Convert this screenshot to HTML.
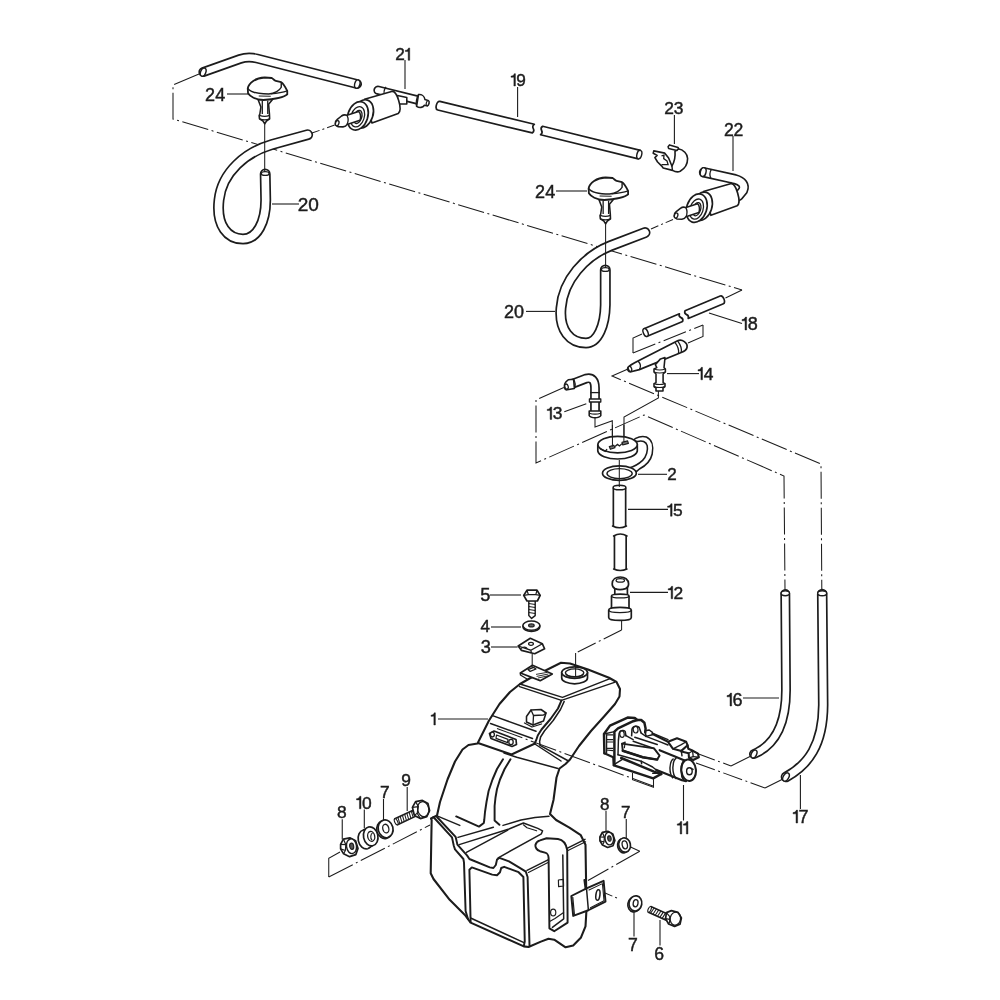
<!DOCTYPE html>
<html><head><meta charset="utf-8"><title>Washer system diagram</title>
<style>
html,body{margin:0;padding:0;background:#fff;}
svg{display:block;}
text{font-family:"Liberation Sans",sans-serif;fill:#1c1c1c;}
</style></head><body>
<svg width="1000" height="1000" viewBox="0 0 1000 1000" style="filter:blur(0.35px)">
<rect width="1000" height="1000" fill="#fff"/>
<path d="M199,74 L173,85 L173,119 L742,290" fill="none" stroke="#1c1c1c" stroke-width="1.04" stroke-dasharray="27 3.5 2 3.5" />
<path d="M742,290 L725.5,298" fill="none" stroke="#1c1c1c" stroke-width="1.04" />
<path d="M312,133 L335,125" fill="none" stroke="#1c1c1c" stroke-width="1.04" stroke-dasharray="8 3 2 3" />
<path d="M651,229 L674,219" fill="none" stroke="#1c1c1c" stroke-width="1.04" stroke-dasharray="8 3 2 3" />
<path d="M628,369 L612,376 L821,464 L821.8,590" fill="none" stroke="#1c1c1c" stroke-width="1.04" stroke-dasharray="27 3.5 2 3.5" />
<path d="M563.8,387.5 L536,400 L536,463 L644,415 L784,476 L785,590" fill="none" stroke="#1c1c1c" stroke-width="1.04" stroke-dasharray="27 3.5 2 3.5" />
<path d="M595,417 L595,427 L612.3,420.8 L612.3,446" fill="none" stroke="#1c1c1c" stroke-width="1.04" />
<path d="M658.4,390 L658.4,398 L624,417 L624,442" fill="none" stroke="#1c1c1c" stroke-width="1.04" />
<path d="M642,334 L633,338 L633,353" fill="none" stroke="#1c1c1c" stroke-width="1.04" />
<path d="M633,353 L703,325" fill="none" stroke="#1c1c1c" stroke-width="1.04" stroke-dasharray="24 3.5 2 3.5" />
<path d="M703,325 L703,336.4 L688,343" fill="none" stroke="#1c1c1c" stroke-width="1.04" />
<path d="M621.6,620 L621.6,630" fill="none" stroke="#1c1c1c" stroke-width="1.04" />
<path d="M621.6,630 L575.6,653" fill="none" stroke="#1c1c1c" stroke-width="1.04" stroke-dasharray="20 3.5 2 3.5" />
<path d="M696,753 L731,766" fill="none" stroke="#1c1c1c" stroke-width="1.04" stroke-dasharray="20 3.5 2 3.5" />
<path d="M731,766 L751,756" fill="none" stroke="#1c1c1c" stroke-width="1.04" />
<path d="M696,763 L765,788" fill="none" stroke="#1c1c1c" stroke-width="1.04" stroke-dasharray="20 3.5 2 3.5" />
<path d="M765,788 L783,779" fill="none" stroke="#1c1c1c" stroke-width="1.04" />
<path d="M340,852 L328.75,858.25 L328.75,877" fill="none" stroke="#1c1c1c" stroke-width="1.04" />
<path d="M328.75,877 L430,825" fill="none" stroke="#1c1c1c" stroke-width="1.04" stroke-dasharray="27 3.5 2 3.5" />
<path d="M630,846.75 L639.75,851.25" fill="none" stroke="#1c1c1c" stroke-width="1.04" />
<path d="M639.75,851.25 L588,880.5" fill="none" stroke="#1c1c1c" stroke-width="1.04" stroke-dasharray="27 3.5 2 3.5" />
<path d="M605,893 L618,898.5" fill="none" stroke="#1c1c1c" stroke-width="1.04" stroke-dasharray="8 3 2 3" />
<path d="M203.4,72 L240,59 Q248,56.3 257,58.5 L357,84" fill="none" stroke="#1c1c1c" stroke-width="10.0" stroke-linecap="round" stroke-linejoin="round"/>
<path d="M203.4,72 L240,59 Q248,56.3 257,58.5 L357,84" fill="none" stroke="#fff" stroke-width="6.619999999999999" stroke-linecap="round" stroke-linejoin="round"/>
<ellipse cx="203.2" cy="72.1" rx="2.6" ry="4.3" transform="rotate(20 203.2 72.1)" fill="#fff" stroke="#1c1c1c" stroke-width="1.43"/>
<ellipse cx="357.3" cy="84.1" rx="2.6" ry="4.3" transform="rotate(15 357.3 84.1)" fill="#fff" stroke="#1c1c1c" stroke-width="1.43"/>
<path d="M307.6,134.7 L272,144.5 C 246,152 222,172 219,200 C 216,226 228,239 243,239 C 257,239 265.7,222 265.7,200 L 265.2,174" fill="none" stroke="#1c1c1c" stroke-width="11" stroke-linecap="round" stroke-linejoin="round"/>
<path d="M307.6,134.7 L272,144.5 C 246,152 222,172 219,200 C 216,226 228,239 243,239 C 257,239 265.7,222 265.7,200 L 265.2,174" fill="none" stroke="#fff" stroke-width="7.619999999999999" stroke-linecap="round" stroke-linejoin="round"/>
<ellipse cx="265.2" cy="173.5" rx="3.9" ry="1.9" transform="rotate(0 265.2 173.5)" fill="#fff" stroke="#1c1c1c" stroke-width="1.43"/>
<path d="M645,232.6 L610,246 C 585,256 563,280 561,308 C 559,330 570,343 586,343 C 598,343 605,325 605.3,305 L 605.3,270" fill="none" stroke="#1c1c1c" stroke-width="11" stroke-linecap="round" stroke-linejoin="round"/>
<path d="M645,232.6 L610,246 C 585,256 563,280 561,308 C 559,330 570,343 586,343 C 598,343 605,325 605.3,305 L 605.3,270" fill="none" stroke="#fff" stroke-width="7.619999999999999" stroke-linecap="round" stroke-linejoin="round"/>
<ellipse cx="605.3" cy="269.5" rx="3.9" ry="1.9" transform="rotate(0 605.3 269.5)" fill="#fff" stroke="#1c1c1c" stroke-width="1.43"/>
<path d="M437.75,110.03 L532.25,132.93 Q534.72,131.24 533.30,128.60 Q531.88,125.96 534.35,124.27 L439.85,101.37 C436.60,100.58 434.50,109.24 437.75,110.03 Z" fill="#fff" stroke="#1c1c1c" stroke-width="1.69" stroke-linejoin="round" stroke-linecap="round" />
<path d="M540.56,134.73 L638.26,158.83 L640.34,150.37 L542.64,126.27 Q540.18,127.91 541.60,130.50 Q543.02,133.09 540.56,134.73 Z" fill="#fff" stroke="#1c1c1c" stroke-width="1.69" stroke-linejoin="round" stroke-linecap="round" />
<ellipse cx="639.3" cy="154.6" rx="2.3952500000000003" ry="4.355" transform="rotate(13.856720041514155 639.3 154.6)" fill="#fff" stroke="#1c1c1c" stroke-width="1.43"/>
<path d="M647.21,336.33 L682.61,321.43 Q683.65,318.74 681.00,317.60 Q678.35,316.46 679.39,313.77 L643.99,328.67 L647.21,336.33 Z" fill="#fff" stroke="#1c1c1c" stroke-width="1.69" stroke-linejoin="round" stroke-linecap="round" />
<ellipse cx="645.6" cy="332.5" rx="2.2852500000000004" ry="4.155" transform="rotate(-22.8264180350521 645.6 332.5)" fill="#fff" stroke="#1c1c1c" stroke-width="1.43"/>
<path d="M688.20,318.43 L723.40,303.73 C726.28,302.53 723.07,294.87 720.20,296.07 L685.00,310.77 Q683.95,313.45 686.60,314.60 Q689.25,315.75 688.20,318.43 Z" fill="#fff" stroke="#1c1c1c" stroke-width="1.69" stroke-linejoin="round" stroke-linecap="round" />
<path d="M619.5,488 L619.5,526" fill="none" stroke="#1c1c1c" stroke-width="14" stroke-linecap="butt" stroke-linejoin="round"/>
<path d="M619.5,488 L619.5,526" fill="none" stroke="#fff" stroke-width="10.62" stroke-linecap="butt" stroke-linejoin="round"/>
<ellipse cx="619.5" cy="487.5" rx="6.4" ry="2.3" transform="rotate(0 619.5 487.5)" fill="#fff" stroke="#1c1c1c" stroke-width="1.56"/>
<path d="M612.5,526 Q619.5,529.5 626.5,526" fill="#fff" stroke="#1c1c1c" stroke-width="1.56" stroke-linejoin="round" stroke-linecap="round" />
<path d="M620.3,536 L620.3,569" fill="none" stroke="#1c1c1c" stroke-width="13.4" stroke-linecap="butt" stroke-linejoin="round"/>
<path d="M620.3,536 L620.3,569" fill="none" stroke="#fff" stroke-width="10.02" stroke-linecap="butt" stroke-linejoin="round"/>
<path d="M613.6,536 Q620.3,532 627,536" fill="#fff" stroke="#1c1c1c" stroke-width="1.56" stroke-linejoin="round" stroke-linecap="round" />
<path d="M613.6,569 Q620.3,572 627,569" fill="#fff" stroke="#1c1c1c" stroke-width="1.56" stroke-linejoin="round" stroke-linecap="round" />
<path d="M785.3,594 L786,690 C 786,725 775,745 754,754" fill="none" stroke="#1c1c1c" stroke-width="10.0" stroke-linecap="round" stroke-linejoin="round"/>
<path d="M785.3,594 L786,690 C 786,725 775,745 754,754" fill="none" stroke="#fff" stroke-width="6.619999999999999" stroke-linecap="round" stroke-linejoin="round"/>
<ellipse cx="785.3" cy="593.3" rx="4.2" ry="2.4" transform="rotate(0 785.3 593.3)" fill="#fff" stroke="#1c1c1c" stroke-width="1.43"/>
<ellipse cx="754" cy="754" rx="2.6" ry="4.2" transform="rotate(25 754 754)" fill="#fff" stroke="#1c1c1c" stroke-width="1.43"/>
<path d="M822.2,594 L823.2,705 C 823,745 808,765 786,777" fill="none" stroke="#1c1c1c" stroke-width="10.6" stroke-linecap="round" stroke-linejoin="round"/>
<path d="M822.2,594 L823.2,705 C 823,745 808,765 786,777" fill="none" stroke="#fff" stroke-width="7.219999999999999" stroke-linecap="round" stroke-linejoin="round"/>
<ellipse cx="822.2" cy="593.3" rx="4.5" ry="2.5" transform="rotate(0 822.2 593.3)" fill="#fff" stroke="#1c1c1c" stroke-width="1.43"/>
<ellipse cx="786" cy="777" rx="2.7" ry="4.5" transform="rotate(30 786 777)" fill="#fff" stroke="#1c1c1c" stroke-width="1.43"/>
<g transform="translate(264.75 123.8)">
<path d="M-6.6,-24 L-3.85,-16.8 L-4.9,-9.8 L-5.6,-8.2 L-5.25,-4.9 L-1.75,-2.8 L0,0 L1.75,-2.8 L4.9,-4.9 L4.7,-9.8 L3.85,-19.6 L8,-24.5 Z" fill="#fff" stroke="#1c1c1c" stroke-width="1.56" stroke-linejoin="round" stroke-linecap="round" />
<path d="M-2.45,-23.1 L-2.45,-9.8 M3.0,-23.1 L3.0,-9.8" fill="none" stroke="#1c1c1c" stroke-width="1.3" />
<path d="M-5.4,-8.4 Q0,-6.3 4.8,-8.4 M-5.25,-4.9 Q0,-3 4.9,-4.9" fill="none" stroke="#1c1c1c" stroke-width="1.3" />
<path d="M-17,-35.5 C-16,-41 -9,-46 0,-46.3 L7,-45.8 C9,-44.5 9.5,-43.3 11,-43 L16.5,-41.6 C18.5,-40.5 21,-36 22.5,-33 L22.5,-29.4 C20,-27 10,-24.5 -1.5,-23.8 C-9,-24 -15,-27.5 -16.7,-30.5 Z" fill="#fff" stroke="#1c1c1c" stroke-width="1.82" stroke-linejoin="round" stroke-linecap="round" />
<path d="M-17,-35.5 C-14,-31 -6,-29.8 4,-29.8 C10,-30.3 15,-33.5 16.5,-36.5 L16.5,-41.6" fill="none" stroke="#1c1c1c" stroke-width="1.43" />
<path d="M22.5,-33 C18,-31.6 12,-30.6 6,-29.9" fill="none" stroke="#1c1c1c" stroke-width="1.3" />
<path d="M-6,-27.8 L6,-27.6" fill="none" stroke="#1c1c1c" stroke-width="1.04" />
</g>
<g transform="translate(605.6 223.8)">
<path d="M-6.6,-24 L-3.85,-16.8 L-4.9,-9.8 L-5.6,-8.2 L-5.25,-4.9 L-1.75,-2.8 L0,0 L1.75,-2.8 L4.9,-4.9 L4.7,-9.8 L3.85,-19.6 L8,-24.5 Z" fill="#fff" stroke="#1c1c1c" stroke-width="1.56" stroke-linejoin="round" stroke-linecap="round" />
<path d="M-2.45,-23.1 L-2.45,-9.8 M3.0,-23.1 L3.0,-9.8" fill="none" stroke="#1c1c1c" stroke-width="1.3" />
<path d="M-5.4,-8.4 Q0,-6.3 4.8,-8.4 M-5.25,-4.9 Q0,-3 4.9,-4.9" fill="none" stroke="#1c1c1c" stroke-width="1.3" />
<path d="M-17,-35.5 C-16,-41 -9,-46 0,-46.3 L7,-45.8 C9,-44.5 9.5,-43.3 11,-43 L16.5,-41.6 C18.5,-40.5 21,-36 22.5,-33 L22.5,-29.4 C20,-27 10,-24.5 -1.5,-23.8 C-9,-24 -15,-27.5 -16.7,-30.5 Z" fill="#fff" stroke="#1c1c1c" stroke-width="1.82" stroke-linejoin="round" stroke-linecap="round" />
<path d="M-17,-35.5 C-14,-31 -6,-29.8 4,-29.8 C10,-30.3 15,-33.5 16.5,-36.5 L16.5,-41.6" fill="none" stroke="#1c1c1c" stroke-width="1.43" />
<path d="M22.5,-33 C18,-31.6 12,-30.6 6,-29.9" fill="none" stroke="#1c1c1c" stroke-width="1.3" />
<path d="M-6,-27.8 L6,-27.6" fill="none" stroke="#1c1c1c" stroke-width="1.04" />
</g>
<path d="M378,90.2 L420,100.6" fill="none" stroke="#1c1c1c" stroke-width="9.4" stroke-linecap="round" stroke-linejoin="round"/>
<path d="M378,90.2 L420,100.6" fill="none" stroke="#fff" stroke-width="6.02" stroke-linecap="round" stroke-linejoin="round"/>
<path d="M386,86.8 C384,89.4 383.6,93.4 385,96.4" fill="none" stroke="#1c1c1c" stroke-width="1.3" />
<path d="M397.5,95.5 L397.5,104 L406.8,104 L406.8,97.5 Z" fill="#fff" stroke="#1c1c1c" stroke-width="1.56" stroke-linejoin="round" stroke-linecap="round" />
<path d="M418.5,94.6 C421.4,94.2 424.4,96 425,99.6 L428,100.4 C429.4,101.4 429.2,105.2 427.6,105.9 L424.4,105.3 C422.9,107.6 419.5,108.2 416.6,106.4 Z" fill="#fff" stroke="#1c1c1c" stroke-width="1.56" stroke-linejoin="round" stroke-linecap="round" />
<path d="M418.5,94.6 C416.6,97.5 415.6,103 416.6,106.4" fill="none" stroke="#1c1c1c" stroke-width="1.3" />
<ellipse cx="427.6" cy="103.1" rx="1.3" ry="2.5" transform="rotate(14 427.6 103.1)" fill="#fff" stroke="#1c1c1c" stroke-width="1.17"/>
<g transform="translate(0 0)">
<path d="M364.5,99.2 L391.6,91.5 C 397,90 403,110 398.2,113.5 L372,123 Z" fill="#fff" stroke="#1c1c1c" stroke-width="1.69" stroke-linejoin="round" stroke-linecap="round" />
<ellipse cx="363.0" cy="114.0" rx="10" ry="14.6" transform="rotate(18 363.0 114.0)" fill="#fff" stroke="#1c1c1c" stroke-width="1.69"/>
<ellipse cx="357.8" cy="115.9" rx="10" ry="14.6" transform="rotate(18 357.8 115.9)" fill="#fff" stroke="#1c1c1c" stroke-width="1.69"/>
<ellipse cx="357.6" cy="116.8" rx="6.6" ry="10.4" transform="rotate(18 357.6 116.8)" fill="#fff" stroke="#1c1c1c" stroke-width="1.3"/>
<ellipse cx="357.8" cy="116.9" rx="3.9" ry="6.8" transform="rotate(18 357.8 116.9)" fill="#fff" stroke="#1c1c1c" stroke-width="1.3"/>
<path d="M358.6,111.4 L347,115.3 C345,114.5 343,114.9 341.5,116 L337,119.6 C334.3,121.6 334.8,126 338,126.7 L343,126.9 C345,126.7 346.5,125.6 347,124.5 L360,120.2 C361.2,117 360.6,113 358.6,111.4 Z" fill="#fff" stroke="#1c1c1c" stroke-width="1.56" stroke-linejoin="round" stroke-linecap="round" />
<path d="M347,115.3 C348.3,118 348.3,122 347,124.5" fill="none" stroke="#1c1c1c" stroke-width="1.3" />
<ellipse cx="337.2" cy="123.2" rx="1.7" ry="2.6" transform="rotate(18 337.2 123.2)" fill="#fff" stroke="#1c1c1c" stroke-width="1.3"/>
</g>
<path d="M704,172.3 L735,179.2 Q746.5,182.5 743,190.5 L738.5,196" fill="none" stroke="#1c1c1c" stroke-width="10.4" stroke-linecap="round" stroke-linejoin="round"/>
<path d="M704,172.3 L735,179.2 Q746.5,182.5 743,190.5 L738.5,196" fill="none" stroke="#fff" stroke-width="7.02" stroke-linecap="round" stroke-linejoin="round"/>
<ellipse cx="703.2" cy="172.1" rx="2.8" ry="4.5" transform="rotate(14 703.2 172.1)" fill="#fff" stroke="#1c1c1c" stroke-width="1.43"/>
<path d="M711.5,169.2 C709.8,172 709.6,176 711,178.6" fill="none" stroke="#1c1c1c" stroke-width="1.3" />
<path d="M730.5,182 L731.8,185.8" fill="none" stroke="#1c1c1c" stroke-width="1.3" />
<g transform="translate(338.9 92.3)">
</g>
<g transform="translate(338.9 92.3)">
<path d="M364.5,99.2 L391.6,91.5 C 397,90 403,110 398.2,113.5 L372,123 Z" fill="#fff" stroke="#1c1c1c" stroke-width="1.69" stroke-linejoin="round" stroke-linecap="round" />
<ellipse cx="363.0" cy="114.0" rx="10" ry="14.6" transform="rotate(18 363.0 114.0)" fill="#fff" stroke="#1c1c1c" stroke-width="1.69"/>
<ellipse cx="357.8" cy="115.9" rx="10" ry="14.6" transform="rotate(18 357.8 115.9)" fill="#fff" stroke="#1c1c1c" stroke-width="1.69"/>
<ellipse cx="357.6" cy="116.8" rx="6.6" ry="10.4" transform="rotate(18 357.6 116.8)" fill="#fff" stroke="#1c1c1c" stroke-width="1.3"/>
<ellipse cx="357.8" cy="116.9" rx="3.9" ry="6.8" transform="rotate(18 357.8 116.9)" fill="#fff" stroke="#1c1c1c" stroke-width="1.3"/>
<path d="M358.6,111.4 L347,115.3 C345,114.5 343,114.9 341.5,116 L337,119.6 C334.3,121.6 334.8,126 338,126.7 L343,126.9 C345,126.7 346.5,125.6 347,124.5 L360,120.2 C361.2,117 360.6,113 358.6,111.4 Z" fill="#fff" stroke="#1c1c1c" stroke-width="1.56" stroke-linejoin="round" stroke-linecap="round" />
<path d="M347,115.3 C348.3,118 348.3,122 347,124.5" fill="none" stroke="#1c1c1c" stroke-width="1.3" />
<ellipse cx="337.2" cy="123.2" rx="1.7" ry="2.6" transform="rotate(18 337.2 123.2)" fill="#fff" stroke="#1c1c1c" stroke-width="1.3"/>
</g>
<path d="M678,148.75 C683.5,149.6 687.6,154 687.6,158.6 C687.6,164 685.4,168.4 680.2,171.3 C677.6,172.4 674.6,171.6 672.5,170.4 L663.2,168 L661.5,165.8 L657.6,162 L654.9,157.6 L657.1,155.4 L653.2,153.2 L653.8,150.9 L664.8,153.15 L668.6,158 L671.9,166 C674.4,162 675.4,156 675,151.4 Z" fill="#fff" stroke="#1c1c1c" stroke-width="1.62" stroke-linejoin="round" stroke-linecap="round" />
<path d="M671.9,166 L672.5,170.4" fill="none" stroke="#1c1c1c" stroke-width="1.43" />
<path d="M661.5,155.9 L664,155.2 L663.7,158.65 L667,160.85 L668.1,164.7 L661.5,164.7" fill="none" stroke="#1c1c1c" stroke-width="1.3" />
<path d="M668.1,146.8 L669.5,144.9 L678,147.4 L678.55,148.75 L676.9,150.4 L668.65,148.5 Z" fill="#fff" stroke="#1c1c1c" stroke-width="1.56" stroke-linejoin="round" stroke-linecap="round" />
<path d="M638,361 L677.6,340.8 C 682,338.5 688,343 687,347.5 C 686.5,350 684,351.5 681.2,352.5 L639.35,369.6 L631,371.8 C 628,372 627,369 628,367.5 C 629,366 633,363.5 638,361 Z" fill="#fff" stroke="#1c1c1c" stroke-width="1.69" stroke-linejoin="round" stroke-linecap="round" />
<path d="M677.6,340.8 C 680,344 682,349 681.2,352.5 M674.8,342.2 C 677.2,345.4 679.2,350.4 678.4,353.6" fill="none" stroke="#1c1c1c" stroke-width="1.3" />
<path d="M638,361 C 640.5,363.5 641,367 639.35,369.6" fill="none" stroke="#1c1c1c" stroke-width="1.3" />
<ellipse cx="630" cy="368.8" rx="1.6" ry="2.6" transform="rotate(-20 630 368.8)" fill="#fff" stroke="#1c1c1c" stroke-width="1.3"/>
<path d="M655.3,364.6 L660.5,358.9 L665,357.6 L664,367.6 L665.4,369 L665.4,372 L663.1,374 L663.1,382.6 L665,383.6 L665,386.6 L663,388 L663,391 L656,391 L656,388 L654,386.6 L654,383.6 L656,382.6 L656,374 L654,372 L654,369 L656.8,367.6 Z" fill="#fff" stroke="#1c1c1c" stroke-width="1.56" stroke-linejoin="round" stroke-linecap="round" />
<path d="M654,369 Q659.7,371 665.4,369 M654,372 Q659.7,374 665.4,372 M654,383.6 Q659.5,385.4 665,383.6 M654,386.6 Q659.5,388.4 665,386.6" fill="none" stroke="#1c1c1c" stroke-width="1.17" />
<path d="M573,383.6 L586,378.6 Q595,376.4 595,388 L595,414" fill="none" stroke="#1c1c1c" stroke-width="9.8" stroke-linecap="butt" stroke-linejoin="round"/>
<path d="M573,383.6 L586,378.6 Q595,376.4 595,388 L595,414" fill="none" stroke="#fff" stroke-width="6.42" stroke-linecap="butt" stroke-linejoin="round"/>
<path d="M573.6,379.3 L568.2,379.8 C565.5,381.5 564,384.5 564.4,387.6 C564.8,389.4 566,390 567.2,389.8 L574.4,388.4 Z" fill="#fff" stroke="#1c1c1c" stroke-width="1.56" stroke-linejoin="round" stroke-linecap="round" />
<ellipse cx="566.5" cy="386.6" rx="1.7" ry="2.6" transform="rotate(-15 566.5 386.6)" fill="#fff" stroke="#1c1c1c" stroke-width="1.3"/>
<path d="M573.6,379.3 C575.2,382 575.6,385.6 574.4,388.4" fill="none" stroke="#1c1c1c" stroke-width="1.3" />
<path d="M589.4,399 L600.8,399 L600.8,402 L589.4,402 Z" fill="#fff" stroke="#1c1c1c" stroke-width="1.3" stroke-linejoin="round" stroke-linecap="round" />
<path d="M590.2,392.6 L599.9,392.6" fill="none" stroke="#1c1c1c" stroke-width="1.3" />
<path d="M589.2,411 L600.8,411 L600.8,415.6 C599,418.4 591,418.4 589.2,415.6 Z" fill="#fff" stroke="#1c1c1c" stroke-width="1.56" stroke-linejoin="round" stroke-linecap="round" />
<path d="M589.2,413.2 Q595,415 600.8,413.2" fill="none" stroke="#1c1c1c" stroke-width="1.17" />
<path d="M633,440.4 C636,437 642,435.6 646.4,437 C651.8,439.4 653.8,446 652.2,454 C650.8,460.4 646.4,465.4 639.4,469 L636.4,471.6 L629,468 C 635,466.4 639.4,463.4 642.6,460.4 C646.4,456.4 648.2,450 647.2,445.6 C646.2,441.8 642,439.8 637.4,441.6 Z" fill="#fff" stroke="#1c1c1c" stroke-width="1.56" stroke-linejoin="round" stroke-linecap="round" />
<ellipse cx="619.4" cy="473.15" rx="16.9" ry="7.2" transform="rotate(0 619.4 473.15)" fill="#fff" stroke="#1c1c1c" stroke-width="1.69"/>
<ellipse cx="619.6" cy="473.6" rx="12.6" ry="5.0" transform="rotate(0 619.6 473.6)" fill="#fff" stroke="#1c1c1c" stroke-width="1.43"/>
<path d="M597.8,444.6 L597.8,451 A19.8,8.6 0 0 0 637.3,451 L637.3,444.6 Z" fill="#fff" stroke="#1c1c1c" stroke-width="1.69" stroke-linejoin="round" stroke-linecap="round" />
<ellipse cx="617.6" cy="444.6" rx="19.7" ry="8.3" transform="rotate(0 617.6 444.6)" fill="#fff" stroke="#1c1c1c" stroke-width="1.69"/>
<path d="M600,448.6 L605.4,451.4 L607,449" fill="none" stroke="#1c1c1c" stroke-width="1.3" />
<path d="M609.3,446.6 L613.8,445.2 L615,447.8 L610.4,449.3 Z" fill="#777" stroke="#1c1c1c" stroke-width="1.17" stroke-linejoin="round" stroke-linecap="round" />
<path d="M622,442.4 L627.6,440.9 L628.4,443.4 L622.8,445 Z" fill="#777" stroke="#1c1c1c" stroke-width="1.17" stroke-linejoin="round" stroke-linecap="round" />
<path d="M615,446.6 L617.5,444.4 L619.5,446 L622,443.6" fill="none" stroke="#1c1c1c" stroke-width="1.3" />
<path d="M619.3,460 L619.3,487" fill="none" stroke="#1c1c1c" stroke-width="1.04" />
<path d="M614.8,597 L614.8,587 L627.4,587 L627.4,597 Z" fill="#fff" stroke="#1c1c1c" stroke-width="1.69" stroke-linejoin="round" stroke-linecap="round" />
<path d="M612.2,584 C612.2,579.4 616,577 620.3,577 C624.6,577 628.6,579.4 628.6,584 C628.6,586.6 627,588 625.6,588.6 C622,589.8 618,589.8 615,588.6 C613.6,588 612.2,586.6 612.2,584 Z" fill="#fff" stroke="#1c1c1c" stroke-width="1.69" stroke-linejoin="round" stroke-linecap="round" />
<ellipse cx="620.3" cy="580.4" rx="4.2" ry="1.8" transform="rotate(0 620.3 580.4)" fill="#fff" stroke="#1c1c1c" stroke-width="1.3"/>
<path d="M611.5,609 L611.5,596 C611.5,593.4 629,593.4 629,596 L629,609 Z" fill="#fff" stroke="#1c1c1c" stroke-width="1.69" stroke-linejoin="round" stroke-linecap="round" />
<path d="M611.5,596 C611.5,598.6 629,598.6 629,596" fill="none" stroke="#1c1c1c" stroke-width="1.3" />
<path d="M608.7,610 C608.7,606.6 631.3,606.6 631.3,610 L631.3,617.4 C631.3,621.4 608.7,621.4 608.7,617.4 Z" fill="#fff" stroke="#1c1c1c" stroke-width="1.69" stroke-linejoin="round" stroke-linecap="round" />
<path d="M608.7,610 C608.7,613.4 631.3,613.4 631.3,610" fill="none" stroke="#1c1c1c" stroke-width="1.3" />
<path d="M528.8,600.5 L535.2,600.5 L535.2,615.6 L531.6,618.4 L528.8,615.6 Z" fill="#fff" stroke="#1c1c1c" stroke-width="1.43" stroke-linejoin="round" stroke-linecap="round" />
<path d="M528.8,603.5 L535.2,604.5 M528.8,606.5 L535.2,607.5 M528.8,609.5 L535.2,610.5 M528.8,612.5 L535.2,613.5" fill="none" stroke="#1c1c1c" stroke-width="1.17" />
<path d="M523.7,595.4 L527,590.2 L537,590.2 L540.2,595.4 L537.4,601 L527,601 Z" fill="#fff" stroke="#1c1c1c" stroke-width="1.69" stroke-linejoin="round" stroke-linecap="round" />
<path d="M527,590.2 L528.4,594.6 L535.8,594.6 L537,590.2 M523.7,595.4 L528.4,594.6 M540.2,595.4 L535.8,594.6" fill="none" stroke="#1c1c1c" stroke-width="1.17" />
<ellipse cx="531.4" cy="626.8" rx="8.5" ry="4.6" transform="rotate(0 531.4 626.8)" fill="#fff" stroke="#1c1c1c" stroke-width="1.56"/>
<ellipse cx="531.4" cy="625.6" rx="8.5" ry="4.6" transform="rotate(0 531.4 625.6)" fill="#fff" stroke="#1c1c1c" stroke-width="1.56"/>
<ellipse cx="531.4" cy="625.4" rx="2.8" ry="1.5" transform="rotate(0 531.4 625.4)" fill="#666" stroke="#1c1c1c" stroke-width="1.17"/>
<path d="M518.2,646 L530.3,638.3 L542.4,643.8 L544.6,648.75 L534.7,653.7 L521.5,650.4 Z" fill="#fff" stroke="#1c1c1c" stroke-width="1.69" stroke-linejoin="round" stroke-linecap="round" />
<path d="M518.2,646 L530.8,650.2 L542.4,643.8 M530.8,650.2 L531.4,653" fill="none" stroke="#1c1c1c" stroke-width="1.3" />
<ellipse cx="531" cy="643.8" rx="2.4" ry="1.5" transform="rotate(0 531 643.8)" fill="#fff" stroke="#1c1c1c" stroke-width="1.3"/>
<path d="M521,648.6 C523,646.4 526,646.6 527.4,648.8" fill="none" stroke="#1c1c1c" stroke-width="1.17" />
<path d="M520.00,684.00 L529.50,678.50 L547.50,669.50 L561.00,662.75 L570.00,663.50 L588.00,669.50 L609.00,677.75 L616.50,682.00 L620.00,689.00 L619.50,696.50 L615.00,704.00 L604.50,716.00 L591.00,731.00 L579.00,746.00 L570.00,759.50 L565.50,764.00 L559.50,768.50 L556.50,777.50 L553.50,800.00 L550.00,814.00 L556.10,820.00 L569.40,827.60 L580.80,835.20 L585.50,844.70 L586.50,909.30 L585.50,926.40 L580.80,937.80 L573.20,945.40 L565.60,947.30 L554.20,939.70 L548.50,938.75 L540.90,941.60 L528.50,947.00 L523.80,946.35 L470.60,922.60 L464.90,915.00 L449.70,899.80 L433.50,879.00 L430.70,873.20 L431.65,820.00 L431.00,818.50 L437.00,815.50 L440.00,802.00 L447.50,779.50 L455.00,761.50 L462.50,749.50 L468.50,745.00 L477.50,743.50 L480.00,738.50 L489.00,720.50 L499.50,704.00 L510.00,692.00 Z" fill="#fff" stroke="#1c1c1c" stroke-width="2.08" stroke-linejoin="round" stroke-linecap="round" />
<path d="M520.00,684.00 L562.50,697.40 L610.00,678.60" fill="none" stroke="#1c1c1c" stroke-width="1.49" stroke-linejoin="round" stroke-linecap="round" />
<path d="M519.50,686.60 L561.50,700.40 L614.50,682.40" fill="none" stroke="#1c1c1c" stroke-width="1.49" stroke-linejoin="round" stroke-linecap="round" />
<path d="M520.40,673.00 L532.50,665.25 L552.30,674.00 L540.20,680.65 Z" fill="#fff" stroke="#1c1c1c" stroke-width="1.69" stroke-linejoin="round" stroke-linecap="round" />
<path d="M520.40,673.00 L520.40,675.00 L527.00,679.00" fill="none" stroke="#1c1c1c" stroke-width="1.3" stroke-linejoin="round" stroke-linecap="round" />
<path d="M528.00,669.60 L533.60,667.40 L536.00,669.00 L530.20,671.40 Z" fill="#fff" stroke="#1c1c1c" stroke-width="1.3" stroke-linejoin="round" stroke-linecap="round" />
<path d="M536,674.4 L547,672.4 M536.6,676.4 L548.4,674 M538,678 L549,675.6" fill="none" stroke="#1c1c1c" stroke-width="0.91" />
<path d="M561.7,672.6 L561.7,678 A12.9,5.8 0 0 0 587.5,678 L587.5,672.6 Z" fill="#fff" stroke="#1c1c1c" stroke-width="1.69" stroke-linejoin="round" stroke-linecap="round" />
<ellipse cx="574.6" cy="672.6" rx="12.9" ry="5.7" transform="rotate(0 574.6 672.6)" fill="#fff" stroke="#1c1c1c" stroke-width="1.69"/>
<ellipse cx="574.6" cy="672.8" rx="9.2" ry="3.9" transform="rotate(0 574.6 672.8)" fill="#fff" stroke="#1c1c1c" stroke-width="1.43"/>
<path d="M566,674.4 A9.2,3.9 0 0 0 583.2,674.4" fill="none" stroke="#1c1c1c" stroke-width="1.17" />
<path d="M561.50,700.40 L558.00,708.50 L550.50,719.00 L541.50,729.50 L537.75,735.50 L536.25,740.00 L534.50,743.75" fill="none" stroke="#1c1c1c" stroke-width="1.95" stroke-linejoin="round" stroke-linecap="round" />
<path d="M564.20,701.40 L560.50,709.50 L553.20,720.50 L544.40,731.00 L540.60,737.00 L539.60,741.50 L540.00,745.00" fill="none" stroke="#1c1c1c" stroke-width="1.49" stroke-linejoin="round" stroke-linecap="round" />
<path d="M492.50,715.60 L536.00,731.20" fill="none" stroke="#1c1c1c" stroke-width="1.49" stroke-linejoin="round" stroke-linecap="round" />
<path d="M490.50,723.50 L532.50,738.50" fill="none" stroke="#1c1c1c" stroke-width="1.49" stroke-linejoin="round" stroke-linecap="round" />
<path d="M478.00,743.00 L511.50,754.50 L534.50,743.75" fill="none" stroke="#1c1c1c" stroke-width="1.95" stroke-linejoin="round" stroke-linecap="round" />
<path d="M504.00,753.00 L516.75,757.25 L558.00,768.50" fill="none" stroke="#1c1c1c" stroke-width="1.49" stroke-linejoin="round" stroke-linecap="round" />
<path d="M534.50,743.75 L561.00,761.00" fill="none" stroke="#1c1c1c" stroke-width="1.49" stroke-linejoin="round" stroke-linecap="round" />
<path d="M540.00,745.40 L568.50,761.00" fill="none" stroke="#1c1c1c" stroke-width="1.49" stroke-linejoin="round" stroke-linecap="round" />
<path d="M526.50,716.50 L531.00,710.00 L541.00,709.50 L546.00,713.00 L543.50,721.00 L533.00,725.00 L526.50,722.00 Z" fill="#fff" stroke="#1c1c1c" stroke-width="1.56" stroke-linejoin="round" stroke-linecap="round" />
<path d="M531.00,710.00 L533.50,715.50 L543.50,715.00 L546.00,713.00" fill="none" stroke="#1c1c1c" stroke-width="1.3" stroke-linejoin="round" stroke-linecap="round" />
<path d="M533.50,715.50 L533.00,725.00" fill="none" stroke="#1c1c1c" stroke-width="1.3" stroke-linejoin="round" stroke-linecap="round" />
<path d="M524.50,723.00 L532.00,727.00 L541.50,724.00" fill="none" stroke="#1c1c1c" stroke-width="1.3" stroke-linejoin="round" stroke-linecap="round" />
<path d="M489.50,733.50 L494.00,731.00 L516.00,739.50 L516.50,744.50 L512.00,746.50 L491.00,738.50 Z" fill="#fff" stroke="#1c1c1c" stroke-width="1.69" stroke-linejoin="round" stroke-linecap="round" />
<ellipse cx="492.4" cy="734.6" rx="2.0" ry="2.4" transform="rotate(0 492.4 734.6)" fill="#fff" stroke="#1c1c1c" stroke-width="1.3"/>
<ellipse cx="511" cy="742" rx="2.2" ry="2.6" transform="rotate(0 511 742)" fill="#fff" stroke="#1c1c1c" stroke-width="1.3"/>
<path d="M496.50,735.00 L508.00,739.40 L507.60,742.60 L496.00,738.40 Z" fill="#fff" stroke="#1c1c1c" stroke-width="1.17" stroke-linejoin="round" stroke-linecap="round" />
<path d="M503.00,759.25 L497.00,769.00 L492.50,779.50 L488.60,791.00 L486.50,802.00 L485.00,812.00 L484.25,820.00 L483.80,823.00 L479.00,826.60 L456.20,816.40" fill="none" stroke="#1c1c1c" stroke-width="1.95" stroke-linejoin="round" stroke-linecap="round" />
<path d="M510.50,759.25 L504.60,769.00 L500.00,779.50 L497.00,789.00 L495.50,797.50 L494.60,806.00 L494.60,820.60 L499.40,824.80" fill="none" stroke="#1c1c1c" stroke-width="1.95" stroke-linejoin="round" stroke-linecap="round" />
<path d="M438.20,816.40 L459.80,825.40" fill="none" stroke="#1c1c1c" stroke-width="1.49" stroke-linejoin="round" stroke-linecap="round" />
<path d="M503.00,825.40 L521.00,820.00 L535.00,817.60 L549.00,816.20" fill="none" stroke="#1c1c1c" stroke-width="1.49" stroke-linejoin="round" stroke-linecap="round" />
<path d="M433.40,817.00 L452.00,837.40 L453.80,845.80 L455.00,849.40 L463.40,859.00 L464.00,862.60 L465.60,911.00 L468.00,919.00" fill="none" stroke="#1c1c1c" stroke-width="1.95" stroke-linejoin="round" stroke-linecap="round" />
<path d="M437.00,817.00 L455.60,836.80 L457.40,844.60 L467.00,855.40 L469.40,859.00 L489.80,867.40 L493.40,868.00 L495.80,865.00 L497.00,859.60 L499.40,857.80 L509.00,861.40 L521.00,868.60 L525.80,871.60 L527.60,877.00 L529.50,945.40" fill="none" stroke="#1c1c1c" stroke-width="1.95" stroke-linejoin="round" stroke-linecap="round" />
<path d="M470.60,922.00 L469.40,869.80 L471.80,867.40 L492.20,874.60 L497.00,875.20 L500.00,872.20 L501.20,868.00 L504.20,866.80 L518.60,872.20 L523.40,877.00 L524.75,941.60 L523.80,946.00" fill="none" stroke="#1c1c1c" stroke-width="1.95" stroke-linejoin="round" stroke-linecap="round" />
<path d="M470.60,918.00 L524.00,942.60" fill="none" stroke="#1c1c1c" stroke-width="1.49" stroke-linejoin="round" stroke-linecap="round" />
<path d="M458.00,837.40 L493.40,827.20" fill="none" stroke="#1c1c1c" stroke-width="1.49" stroke-linejoin="round" stroke-linecap="round" />
<path d="M459.20,844.60 L509.00,829.00 L523.40,823.00 L537.80,828.40 L542.60,830.80 L541.40,833.80 L498.20,857.80" fill="none" stroke="#1c1c1c" stroke-width="1.49" stroke-linejoin="round" stroke-linecap="round" />
<path d="M466.40,852.40 L507.80,830.20" fill="none" stroke="#1c1c1c" stroke-width="1.49" stroke-linejoin="round" stroke-linecap="round" />
<path d="M523.40,824.80 L527.00,827.80 L536.60,830.80" fill="none" stroke="#1c1c1c" stroke-width="1.17" stroke-linejoin="round" stroke-linecap="round" />
<path d="M527.00,870.40 L548.50,859.60" fill="none" stroke="#1c1c1c" stroke-width="1.49" stroke-linejoin="round" stroke-linecap="round" />
<path d="M528.40,872.40 L548.50,862.20" fill="none" stroke="#1c1c1c" stroke-width="1.17" stroke-linejoin="round" stroke-linecap="round" />
<path d="M567.00,848.40 L585.00,839.40" fill="none" stroke="#1c1c1c" stroke-width="1.49" stroke-linejoin="round" stroke-linecap="round" />
<path d="M567.00,851.00 L585.60,841.80" fill="none" stroke="#1c1c1c" stroke-width="1.17" stroke-linejoin="round" stroke-linecap="round" />
<path d="M535.4,845 C536,842.5 538,841 540,840.4 L546.6,838.2 L558,839 C562,839.6 566,843 567.2,850 L567.6,922.6 L554.2,931.2 L549.4,928.3 L548.6,858 C548.4,854.4 547.6,853.4 545,852.6 L540,851.2 C537,850 535.2,848 535.4,845 Z" fill="#fff" stroke="#1c1c1c" stroke-width="1.95" stroke-linejoin="round" stroke-linecap="round" />
<path d="M562.80,855.00 L563.70,918.80 L552.40,927.40" fill="none" stroke="#1c1c1c" stroke-width="1.49" stroke-linejoin="round" stroke-linecap="round" />
<path d="M549.60,921.60 L555.00,918.40 L563.60,912.50" fill="none" stroke="#1c1c1c" stroke-width="1.17" stroke-linejoin="round" stroke-linecap="round" />
<ellipse cx="553.2" cy="912.5" rx="2.6" ry="3.4" transform="rotate(0 553.2 912.5)" fill="none" stroke="#1c1c1c" stroke-width="1.17"/>
<path d="M558.40,880.00 L563.40,879.40 L563.60,886.00 L558.60,886.60 Z" fill="none" stroke="#1c1c1c" stroke-width="1.17" stroke-linejoin="round" stroke-linecap="round" />
<path d="M571.30,896.00 L586.50,888.40 L603.60,880.80 L605.50,901.70 L588.40,910.25 L573.20,915.95 Z" fill="#fff" stroke="#1c1c1c" stroke-width="1.95" stroke-linejoin="round" stroke-linecap="round" />
<path d="M586.50,888.40 L588.40,910.25" fill="none" stroke="#1c1c1c" stroke-width="1.49" stroke-linejoin="round" stroke-linecap="round" />
<path d="M572.80,897.40 L574.40,914.40" fill="none" stroke="#1c1c1c" stroke-width="1.17" stroke-linejoin="round" stroke-linecap="round" />
<path d="M589.00,890.00 L602.40,883.60 L604.00,900.80 L590.40,907.80" fill="none" stroke="#1c1c1c" stroke-width="1.04" stroke-linejoin="round" stroke-linecap="round" />
<ellipse cx="597.9" cy="895" rx="2.0" ry="5.2" transform="rotate(8 597.9 895)" fill="none" stroke="#1c1c1c" stroke-width="1.56"/>
<path d="M584.40,880.00 L585.60,889.00" fill="none" stroke="#1c1c1c" stroke-width="1.95" stroke-linejoin="round" stroke-linecap="round" />
<path d="M604,734 L610,725.6 L627.6,717.6 L637.2,720 L644.4,722.8 L645.6,730 L652.4,732.4 L668,741.8 L677,738.3 L686.2,741.8 L687.6,745.3 L698,753.7 L698.8,757.2 L694,760.5 L696,770 L692,780 L684,781.4 L661.2,774 L653.2,778 L613.6,765.2 L613.2,757.2 L604.4,753.2 Z" fill="#fff" stroke="#1c1c1c" stroke-width="0.01" stroke-linejoin="round" stroke-linecap="round" />
<path d="M659.60,750.20 L675.00,756.50 L684.00,760.20" fill="none" stroke="#1c1c1c" stroke-width="2.08" stroke-linejoin="round" stroke-linecap="round" />
<path d="M656.00,769.80 L682.00,780.30 L686.00,781.20" fill="none" stroke="#1c1c1c" stroke-width="2.08" stroke-linejoin="round" stroke-linecap="round" />
<path d="M673.6,758.6 C669.2,761.6 668.6,773 673,778.2" fill="none" stroke="#1c1c1c" stroke-width="1.43" />
<path d="M676.4,757.9 C672,761 671.4,773.6 676.4,778.9" fill="none" stroke="#1c1c1c" stroke-width="1.43" />
<ellipse cx="688.6" cy="770.2" rx="7.3" ry="10.8" transform="rotate(-6 688.6 770.2)" fill="#fff" stroke="#1c1c1c" stroke-width="2.08"/>
<path d="M684.8,760 C680.6,762.6 680,775 683.6,780.3" fill="none" stroke="#1c1c1c" stroke-width="1.56" />
<ellipse cx="689.4" cy="771.2" rx="2.8" ry="3.5" transform="rotate(0 689.4 771.2)" fill="#fff" stroke="#1c1c1c" stroke-width="1.43"/>
<path d="M690.4,768.2 L693.6,769.6" fill="none" stroke="#1c1c1c" stroke-width="1.3" />
<path d="M652.60,734.00 L668.00,741.80 L677.00,738.30 L686.20,741.80 L687.60,745.30 L681.30,750.90 L673.00,748.80 L668.00,741.80" fill="none" stroke="#1c1c1c" stroke-width="2.08" stroke-linejoin="round" stroke-linecap="round" />
<path d="M673.00,748.80 L681.30,744.60 L686.20,741.80" fill="none" stroke="#1c1c1c" stroke-width="1.3" stroke-linejoin="round" stroke-linecap="round" />
<path d="M681.30,750.90 L682.00,755.80" fill="none" stroke="#1c1c1c" stroke-width="1.43" stroke-linejoin="round" stroke-linecap="round" />
<path d="M687.60,745.30 L688.30,748.80 L691.80,750.20 L698.00,753.70 L698.80,757.20 L693.20,760.00 L689.00,757.90 L688.60,753.20 L681.30,751.60" fill="none" stroke="#1c1c1c" stroke-width="2.08" stroke-linejoin="round" stroke-linecap="round" />
<path d="M688.60,753.20 L692.60,751.00 L698.00,753.70" fill="none" stroke="#1c1c1c" stroke-width="1.3" stroke-linejoin="round" stroke-linecap="round" />
<path d="M692.60,751.00 L693.20,756.60 L689.00,757.90" fill="none" stroke="#1c1c1c" stroke-width="1.3" stroke-linejoin="round" stroke-linecap="round" />
<path d="M693.20,756.60 L698.80,757.20" fill="none" stroke="#1c1c1c" stroke-width="1.17" stroke-linejoin="round" stroke-linecap="round" />
<path d="M652.40,733.20 L668.00,739.60" fill="none" stroke="#1c1c1c" stroke-width="1.43" stroke-linejoin="round" stroke-linecap="round" />
<path d="M646.00,736.40 L659.60,741.60 L668.00,745.00" fill="none" stroke="#1c1c1c" stroke-width="1.43" stroke-linejoin="round" stroke-linecap="round" />
<path d="M645.20,730.80 L649.20,730.00 L652.40,732.40 L652.40,734.80 L646.00,736.40 L645.20,730.80" fill="none" stroke="#1c1c1c" stroke-width="1.43" stroke-linejoin="round" stroke-linecap="round" />
<path d="M604.40,753.20 L604.00,734.00 L610.00,725.60 L627.60,717.60 L634.80,718.00 L637.20,720.00 L641.20,720.00 L644.40,722.80 L645.60,728.40 L645.20,732.40" fill="none" stroke="#1c1c1c" stroke-width="2.47" stroke-linejoin="round" stroke-linecap="round" />
<path d="M604.40,753.20 L613.20,757.20 L613.60,765.20" fill="none" stroke="#1c1c1c" stroke-width="2.08" stroke-linejoin="round" stroke-linecap="round" />
<path d="M614.40,764.40 L614.40,731.60 L618.00,728.40 L633.20,721.20 L637.20,720.00" fill="none" stroke="#1c1c1c" stroke-width="2.47" stroke-linejoin="round" stroke-linecap="round" />
<path d="M604.00,734.00 L614.40,731.60" fill="none" stroke="#1c1c1c" stroke-width="1.3" stroke-linejoin="round" stroke-linecap="round" />
<path d="M606,734.8 L613.2,734.8 M606,739.6 L613.2,739.6 M606.8,742 L613.2,742 M606,748.4 L613.2,748.4 M606,750 L613.2,750.6" fill="none" stroke="#1c1c1c" stroke-width="1.17" />
<path d="M606.60,735.00 L606.60,752.60" fill="none" stroke="#1c1c1c" stroke-width="1.3" stroke-linejoin="round" stroke-linecap="round" />
<path d="M618.4,740.4 L619.2,733.2 C620,730 624.6,730 625.2,731.6 L626,736.4" fill="none" stroke="#1c1c1c" stroke-width="1.56" />
<path d="M631.6,736.4 L632,729.2 C633,725.4 638.8,725.6 639.6,728.4 L641.2,733.2" fill="none" stroke="#1c1c1c" stroke-width="1.56" />
<ellipse cx="622" cy="734" rx="2.2" ry="3.4" transform="rotate(-8 622 734)" fill="none" stroke="#1c1c1c" stroke-width="1.17"/>
<ellipse cx="635.6" cy="729.6" rx="2.4" ry="3.4" transform="rotate(-8 635.6 729.6)" fill="none" stroke="#1c1c1c" stroke-width="1.17"/>
<path d="M626.00,735.60 L633.20,739.60" fill="none" stroke="#1c1c1c" stroke-width="1.43" stroke-linejoin="round" stroke-linecap="round" />
<path d="M634.80,737.20 L657.20,744.40" fill="none" stroke="#1c1c1c" stroke-width="1.56" stroke-linejoin="round" stroke-linecap="round" />
<path d="M633.20,741.20 L654.00,748.40" fill="none" stroke="#1c1c1c" stroke-width="1.56" stroke-linejoin="round" stroke-linecap="round" />
<path d="M641.20,733.20 L646.00,736.40" fill="none" stroke="#1c1c1c" stroke-width="1.43" stroke-linejoin="round" stroke-linecap="round" />
<path d="M622.00,743.60 L654.00,748.40 L659.60,755.60 L657.20,759.60 L642.80,757.20 L622.80,750.80 Z" fill="none" stroke="#1c1c1c" stroke-width="1.95" stroke-linejoin="round" stroke-linecap="round" />
<path d="M622.80,750.80 L642.80,757.20 L657.20,759.60" fill="none" stroke="#1c1c1c" stroke-width="2.47" stroke-linejoin="round" stroke-linecap="round" />
<path d="M622.00,743.60 L625.20,742.00 L624.40,747.60" fill="none" stroke="#1c1c1c" stroke-width="1.17" stroke-linejoin="round" stroke-linecap="round" />
<path d="M618.40,740.40 L618.00,754.80" fill="none" stroke="#1c1c1c" stroke-width="1.43" stroke-linejoin="round" stroke-linecap="round" />
<path d="M618.00,754.80 L641.20,761.20 L641.60,763.60" fill="none" stroke="#1c1c1c" stroke-width="1.56" stroke-linejoin="round" stroke-linecap="round" />
<path d="M621.20,758.00 L654.00,771.60 L661.20,774.00" fill="none" stroke="#1c1c1c" stroke-width="2.47" stroke-linejoin="round" stroke-linecap="round" />
<path d="M614.40,764.40 L622.00,759.60" fill="none" stroke="#1c1c1c" stroke-width="1.43" stroke-linejoin="round" stroke-linecap="round" />
<path d="M641.20,761.20 L652.60,767.00 L660.30,773.30" fill="none" stroke="#1c1c1c" stroke-width="1.43" stroke-linejoin="round" stroke-linecap="round" />
<path d="M657.20,759.60 L656.00,769.80" fill="none" stroke="#1c1c1c" stroke-width="0.01" stroke-linejoin="round" stroke-linecap="round" />
<path d="M614.00,765.40 L653.20,778.40 L661.20,774.00" fill="none" stroke="#1c1c1c" stroke-width="2.47" stroke-linejoin="round" stroke-linecap="round" />
<path d="M652.60,773.30 L660.30,773.30" fill="none" stroke="#1c1c1c" stroke-width="1.3" stroke-linejoin="round" stroke-linecap="round" />
<g transform="translate(349.2 847.25) scale(1.0)">
<path d="M-8.6,-2.8 L-5.8,-8.2 L0.6,-9.4 L6.4,-6.4 L8.8,1.2 L6.6,7.4 L0.4,9.4 L-5.6,6.6 L-8.6,1.6 Z" fill="#fff" stroke="#1c1c1c" stroke-width="1.69" stroke-linejoin="round" stroke-linecap="round" />
<path d="M-5.8,-8.2 L-3.4,-2.6 L-3.8,3.2 L-5.6,6.6 M-8.6,-2.8 L-3.4,-2.6 M-8.6,1.6 L-3.8,3.2" fill="none" stroke="#1c1c1c" stroke-width="1.17" />
<ellipse cx="2.3" cy="-1.0" rx="5.0" ry="7.4" transform="rotate(-8 2.3 -1.0)" fill="#fff" stroke="#1c1c1c" stroke-width="1.43"/>
<ellipse cx="2.5" cy="-1.0" rx="2.0" ry="3.2" transform="rotate(-8 2.5 -1.0)" fill="#555" stroke="#1c1c1c" stroke-width="1.17"/>
</g>
<g transform="translate(607.3 839.4) scale(0.86)">
<path d="M-8.6,-2.8 L-5.8,-8.2 L0.6,-9.4 L6.4,-6.4 L8.8,1.2 L6.6,7.4 L0.4,9.4 L-5.6,6.6 L-8.6,1.6 Z" fill="#fff" stroke="#1c1c1c" stroke-width="1.97" stroke-linejoin="round" stroke-linecap="round" />
<path d="M-5.8,-8.2 L-3.4,-2.6 L-3.8,3.2 L-5.6,6.6 M-8.6,-2.8 L-3.4,-2.6 M-8.6,1.6 L-3.8,3.2" fill="none" stroke="#1c1c1c" stroke-width="1.36" />
<ellipse cx="2.3" cy="-1.0" rx="5.0" ry="7.4" transform="rotate(-8 2.3 -1.0)" fill="#fff" stroke="#1c1c1c" stroke-width="1.66"/>
<ellipse cx="2.5" cy="-1.0" rx="2.0" ry="3.2" transform="rotate(-8 2.5 -1.0)" fill="#555" stroke="#1c1c1c" stroke-width="1.36"/>
</g>
<ellipse cx="365.4" cy="839.4" rx="7.2" ry="9.6" transform="rotate(-12 365.4 839.4)" fill="#fff" stroke="#1c1c1c" stroke-width="1.69"/>
<path d="M363.8,830 L369.2,826.9 L372.4,846 L367,849 Z" fill="#fff" stroke="#1c1c1c" stroke-width="0.01" stroke-linejoin="round" stroke-linecap="round" />
<path d="M363.2,830.1 L368.8,827 M367.4,848.8 L372.6,845.6" fill="none" stroke="#1c1c1c" stroke-width="1.56" />
<ellipse cx="370.7" cy="836.4" rx="7.2" ry="9.6" transform="rotate(-12 370.7 836.4)" fill="#fff" stroke="#1c1c1c" stroke-width="1.69"/>
<ellipse cx="371.2" cy="836.4" rx="3.5" ry="5.0" transform="rotate(-12 371.2 836.4)" fill="#fff" stroke="#1c1c1c" stroke-width="1.3"/>
<path d="M372.6,833 C370.6,833.6 370,838.2 372,840.2" fill="none" stroke="#1c1c1c" stroke-width="1.17" />
<ellipse cx="384.2" cy="829.8" rx="7.4" ry="9.0" transform="rotate(-14 384.2 829.8)" fill="#fff" stroke="#1c1c1c" stroke-width="1.56"/>
<ellipse cx="385.6" cy="828.8" rx="7.4" ry="9.0" transform="rotate(-14 385.6 828.8)" fill="#fff" stroke="#1c1c1c" stroke-width="1.69"/>
<ellipse cx="385.8" cy="828.6" rx="3.0" ry="4.4" transform="rotate(-14 385.8 828.6)" fill="#fff" stroke="#1c1c1c" stroke-width="1.3"/>
<path d="M397.61,824.78 L415.41,816.38 L412.59,810.42 L394.79,818.82 Z" fill="#fff" stroke="#1c1c1c" stroke-width="1.56" stroke-linejoin="round" stroke-linecap="round" />
<path d="M399.83,823.73 L397.92,817.34 M402.06,822.68 L400.15,816.29 M404.28,821.63 L402.37,815.24 M406.51,820.58 L404.60,814.19 M408.73,819.53 L406.82,813.14 M410.96,818.48 L409.05,812.09 M413.18,817.43 L411.27,811.04" fill="none" stroke="#1c1c1c" stroke-width="1.04" />
<ellipse cx="396.2" cy="821.8" rx="1.48" ry="3.30" transform="rotate(-25.3 396.2 821.8)" fill="#fff" stroke="#1c1c1c" stroke-width="1.1"/>
<path d="M412.4,807.4 L415.6,801.6 L422.4,800.4 L428,803.6 L429.6,810.6 L426.8,816.6 L420.4,818.6 L414.4,815.4 Z" fill="#fff" stroke="#1c1c1c" stroke-width="1.69" stroke-linejoin="round" stroke-linecap="round" />
<path d="M415.6,801.6 L418.4,806.6 L417.2,813.2 L414.4,815.4 M412.4,807.4 L418.4,806.6 M417.2,813.2 L420.4,818.6" fill="none" stroke="#1c1c1c" stroke-width="1.17" />
<ellipse cx="423.2" cy="809.2" rx="5.6" ry="7.6" transform="rotate(-12 423.2 809.2)" fill="none" stroke="#1c1c1c" stroke-width="1.3"/>
<ellipse cx="623.4" cy="845.8" rx="5.8" ry="7.2" transform="rotate(-12 623.4 845.8)" fill="#fff" stroke="#1c1c1c" stroke-width="1.56"/>
<ellipse cx="624.6" cy="845.0" rx="5.8" ry="7.2" transform="rotate(-12 624.6 845.0)" fill="#fff" stroke="#1c1c1c" stroke-width="1.69"/>
<ellipse cx="624.8" cy="844.9" rx="2.6" ry="4.0" transform="rotate(-12 624.8 844.9)" fill="#fff" stroke="#1c1c1c" stroke-width="1.3"/>
<ellipse cx="634.2" cy="904.4" rx="6.4" ry="7.6" transform="rotate(10 634.2 904.4)" fill="#fff" stroke="#1c1c1c" stroke-width="1.56"/>
<ellipse cx="635.4" cy="903.4" rx="6.4" ry="7.6" transform="rotate(10 635.4 903.4)" fill="#fff" stroke="#1c1c1c" stroke-width="1.69"/>
<ellipse cx="635.6" cy="903.2" rx="2.4" ry="3.6" transform="rotate(10 635.6 903.2)" fill="#fff" stroke="#1c1c1c" stroke-width="1.3"/>
<path d="M648.34,912.23 L666.74,920.43 L669.26,914.77 L650.86,906.57 Z" fill="#fff" stroke="#1c1c1c" stroke-width="1.56" stroke-linejoin="round" stroke-linecap="round" />
<path d="M650.64,913.26 L654.08,908.00 M652.94,914.28 L656.38,909.03 M655.24,915.31 L658.68,910.05 M657.54,916.33 L660.98,911.08 M659.84,917.36 L663.28,912.10 M662.14,918.38 L665.58,913.13 M664.44,919.41 L667.88,914.15" fill="none" stroke="#1c1c1c" stroke-width="1.04" />
<ellipse cx="649.6" cy="909.4" rx="1.40" ry="3.10" transform="rotate(24.0 649.6 909.4)" fill="#fff" stroke="#1c1c1c" stroke-width="1.1"/>
<path d="M666.4,912.6 L671.4,910.6 L678,912.4 L681.4,918 L680,924.2 L674.6,926.4 L668.6,924 L665.6,918.6 Z" fill="#fff" stroke="#1c1c1c" stroke-width="1.69" stroke-linejoin="round" stroke-linecap="round" />
<path d="M666.4,912.6 L669.8,916.6 L669.6,922 L668.6,924 M665.6,918.6 L669.6,919.4" fill="none" stroke="#1c1c1c" stroke-width="1.17" />
<ellipse cx="675.4" cy="918.6" rx="5.2" ry="6.6" transform="rotate(10 675.4 918.6)" fill="none" stroke="#1c1c1c" stroke-width="1.3"/>
<path d="M264.7,123.8 L264.7,172" fill="none" stroke="#1c1c1c" stroke-width="1.04" />
<path d="M605.6,223.8 L605.6,268" fill="none" stroke="#1c1c1c" stroke-width="1.04" />
<path d="M575.6,653 L575.6,676" fill="none" stroke="#1c1c1c" stroke-width="1.04" />
<path d="M532.2,654 L532.2,668" fill="none" stroke="#1c1c1c" stroke-width="1.04" />
<path d="M497,728.5 L653,786" fill="none" stroke="#1c1c1c" stroke-width="1.04" stroke-dasharray="27 3.5 2 3.5" />
<path d="M632.5,773 L632.5,779.75 L653.5,787.25 L653.5,779" fill="none" stroke="#1c1c1c" stroke-width="1.04" />
<path d="M612.45,425 L612.45,446.6 M623.9,425 L623.9,442" fill="none" stroke="#1c1c1c" stroke-width="1.04" />
<text x="205.10" y="101" font-size="18" stroke="#1c1c1c" stroke-width="0.45">2</text>
<text x="215.31" y="101" font-size="18" stroke="#1c1c1c" stroke-width="0.45">4</text>
<text x="395.14" y="60.3" font-size="17.2" stroke="#1c1c1c" stroke-width="0.45">2</text>
<path d="M409.72,47.98 L409.72,60.30 L408.18,60.30 L408.18,51.56 L405.29,51.56 L405.29,50.32 C407.02,50.26 408.04,49.46 408.55,47.98 Z" fill="#1c1c1c" stroke="#1c1c1c" stroke-width="0.45" stroke-linejoin="round"/>
<path d="M515.43,73.68 L515.43,86.00 L513.89,86.00 L513.89,77.26 L511.00,77.26 L511.00,76.02 C512.74,75.96 513.75,75.16 514.26,73.68 Z" fill="#1c1c1c" stroke="#1c1c1c" stroke-width="0.45" stroke-linejoin="round"/>
<text x="516.31" y="86" font-size="17.2" stroke="#1c1c1c" stroke-width="0.45">9</text>
<text x="664.13" y="114.2" font-size="17.4" stroke="#1c1c1c" stroke-width="0.45">2</text>
<text x="673.73" y="114.2" font-size="17.4" stroke="#1c1c1c" stroke-width="0.45">3</text>
<text x="724.12" y="135.8" font-size="17.6" stroke="#1c1c1c" stroke-width="0.45">2</text>
<text x="733.62" y="135.8" font-size="17.6" stroke="#1c1c1c" stroke-width="0.45">2</text>
<text x="535.10" y="198" font-size="18" stroke="#1c1c1c" stroke-width="0.45">2</text>
<text x="545.31" y="198" font-size="18" stroke="#1c1c1c" stroke-width="0.45">4</text>
<text x="297.85" y="211" font-size="19" stroke="#1c1c1c" stroke-width="0.45">2</text>
<text x="308.32" y="211" font-size="19" stroke="#1c1c1c" stroke-width="0.45">0</text>
<text x="504.10" y="318" font-size="18" stroke="#1c1c1c" stroke-width="0.45">2</text>
<text x="514.02" y="318" font-size="18" stroke="#1c1c1c" stroke-width="0.45">0</text>
<path d="M746.64,317.11 L746.64,330.00 L745.03,330.00 L745.03,320.85 L742.00,320.85 L742.00,319.56 C743.82,319.50 744.88,318.66 745.42,317.11 Z" fill="#1c1c1c" stroke="#1c1c1c" stroke-width="0.45" stroke-linejoin="round"/>
<text x="747.63" y="330" font-size="18" stroke="#1c1c1c" stroke-width="0.45">8</text>
<path d="M702.49,367.34 L702.49,379.80 L700.93,379.80 L700.93,370.95 L698.00,370.95 L698.00,369.71 C699.76,369.65 700.78,368.84 701.30,367.34 Z" fill="#1c1c1c" stroke="#1c1c1c" stroke-width="0.45" stroke-linejoin="round"/>
<text x="703.79" y="379.8" font-size="17.4" stroke="#1c1c1c" stroke-width="0.45">4</text>
<path d="M551.69,406.94 L551.69,419.40 L550.13,419.40 L550.13,410.55 L547.20,410.55 L547.20,409.31 C548.96,409.25 549.98,408.44 550.50,406.94 Z" fill="#1c1c1c" stroke="#1c1c1c" stroke-width="0.45" stroke-linejoin="round"/>
<text x="552.72" y="419.4" font-size="17.4" stroke="#1c1c1c" stroke-width="0.45">3</text>
<text x="667.15" y="480" font-size="17" stroke="#1c1c1c" stroke-width="0.45">2</text>
<path d="M672.09,503.74 L672.09,516.20 L670.53,516.20 L670.53,507.35 L667.60,507.35 L667.60,506.11 C669.36,506.05 670.38,505.24 670.90,503.74 Z" fill="#1c1c1c" stroke="#1c1c1c" stroke-width="0.45" stroke-linejoin="round"/>
<text x="673.09" y="516.2" font-size="17.4" stroke="#1c1c1c" stroke-width="0.45">5</text>
<path d="M672.69,586.34 L672.69,598.80 L671.13,598.80 L671.13,589.95 L668.20,589.95 L668.20,588.71 C669.96,588.65 670.98,587.84 671.50,586.34 Z" fill="#1c1c1c" stroke="#1c1c1c" stroke-width="0.45" stroke-linejoin="round"/>
<text x="673.52" y="598.8" font-size="17.4" stroke="#1c1c1c" stroke-width="0.45">2</text>
<text x="480.27" y="601" font-size="18.2" stroke="#1c1c1c" stroke-width="0.45">5</text>
<text x="480.61" y="632" font-size="17" stroke="#1c1c1c" stroke-width="0.45">4</text>
<text x="480.71" y="652.7" font-size="18.2" stroke="#1c1c1c" stroke-width="0.45">3</text>
<path d="M435.38,712.83 L435.38,725.00 L433.86,725.00 L433.86,716.36 L431.00,716.36 L431.00,715.14 C432.72,715.08 433.72,714.29 434.23,712.83 Z" fill="#1c1c1c" stroke="#1c1c1c" stroke-width="0.45" stroke-linejoin="round"/>
<path d="M731.64,693.11 L731.64,706.00 L730.03,706.00 L730.03,696.85 L727.00,696.85 L727.00,695.56 C728.82,695.50 729.88,694.66 730.42,693.11 Z" fill="#1c1c1c" stroke="#1c1c1c" stroke-width="0.45" stroke-linejoin="round"/>
<text x="732.48" y="706" font-size="18" stroke="#1c1c1c" stroke-width="0.45">6</text>
<path d="M797.64,810.11 L797.64,823.00 L796.03,823.00 L796.03,813.85 L793.00,813.85 L793.00,812.56 C794.82,812.50 795.88,811.66 796.42,810.11 Z" fill="#1c1c1c" stroke="#1c1c1c" stroke-width="0.45" stroke-linejoin="round"/>
<text x="798.48" y="823" font-size="18" stroke="#1c1c1c" stroke-width="0.45">7</text>
<path d="M681.74,821.54 L681.74,834.00 L680.18,834.00 L680.18,825.15 L677.25,825.15 L677.25,823.91 C679.01,823.85 680.03,823.04 680.55,821.54 Z" fill="#1c1c1c" stroke="#1c1c1c" stroke-width="0.45" stroke-linejoin="round"/>
<path d="M687.92,821.54 L687.92,834.00 L686.36,834.00 L686.36,825.15 L683.44,825.15 L683.44,823.91 C685.19,823.85 686.22,823.04 686.74,821.54 Z" fill="#1c1c1c" stroke="#1c1c1c" stroke-width="0.45" stroke-linejoin="round"/>
<text x="337.00" y="817.75" font-size="17.4" stroke="#1c1c1c" stroke-width="0.45">8</text>
<path d="M360.99,796.29 L360.99,808.75 L359.43,808.75 L359.43,799.90 L356.50,799.90 L356.50,798.66 C358.26,798.60 359.28,797.79 359.80,796.29 Z" fill="#1c1c1c" stroke="#1c1c1c" stroke-width="0.45" stroke-linejoin="round"/>
<text x="362.01" y="808.75" font-size="17.4" stroke="#1c1c1c" stroke-width="0.45">0</text>
<text x="380.11" y="798" font-size="17.4" stroke="#1c1c1c" stroke-width="0.45">7</text>
<text x="401.18" y="786" font-size="17.4" stroke="#1c1c1c" stroke-width="0.45">9</text>
<text x="600.02" y="810" font-size="17" stroke="#1c1c1c" stroke-width="0.45">8</text>
<text x="620.88" y="818.25" font-size="17" stroke="#1c1c1c" stroke-width="0.45">7</text>
<text x="628.10" y="950.75" font-size="17.6" stroke="#1c1c1c" stroke-width="0.45">7</text>
<text x="654.35" y="959.75" font-size="17.6" stroke="#1c1c1c" stroke-width="0.45">6</text>
<path d="M227,94 L249,94" fill="none" stroke="#1c1c1c" stroke-width="1.1" />
<path d="M405,60 L405,89" fill="none" stroke="#1c1c1c" stroke-width="1.1" />
<path d="M517.6,87 L517.6,117" fill="none" stroke="#1c1c1c" stroke-width="1.1" />
<path d="M674.4,115 L674.4,144" fill="none" stroke="#1c1c1c" stroke-width="1.1" />
<path d="M733,136 L733,171" fill="none" stroke="#1c1c1c" stroke-width="1.1" />
<path d="M556,191 L587,191" fill="none" stroke="#1c1c1c" stroke-width="1.1" />
<path d="M272,204 L299,204" fill="none" stroke="#1c1c1c" stroke-width="1.1" />
<path d="M526,311.4 L555,311.4" fill="none" stroke="#1c1c1c" stroke-width="1.1" />
<path d="M709,313 L742,323.6" fill="none" stroke="#1c1c1c" stroke-width="1.1" />
<path d="M667,373.6 L699,373.6" fill="none" stroke="#1c1c1c" stroke-width="1.1" />
<path d="M564.3,411.8 L586.3,403.7" fill="none" stroke="#1c1c1c" stroke-width="1.1" />
<path d="M638,474.3 L667,474.3" fill="none" stroke="#1c1c1c" stroke-width="1.1" />
<path d="M628,509.4 L668,509.4" fill="none" stroke="#1c1c1c" stroke-width="1.1" />
<path d="M630,592.4 L668,592.4" fill="none" stroke="#1c1c1c" stroke-width="1.1" />
<path d="M490,595 L521,595" fill="none" stroke="#1c1c1c" stroke-width="1.1" />
<path d="M491,627 L521,627" fill="none" stroke="#1c1c1c" stroke-width="1.1" />
<path d="M491,647 L517.6,647" fill="none" stroke="#1c1c1c" stroke-width="1.1" />
<path d="M438,719 L488,719" fill="none" stroke="#1c1c1c" stroke-width="1.1" />
<path d="M743,698 L779,698" fill="none" stroke="#1c1c1c" stroke-width="1.1" />
<path d="M800.4,775 L800.4,809" fill="none" stroke="#1c1c1c" stroke-width="1.1" />
<path d="M683.5,785 L683.5,820.5" fill="none" stroke="#1c1c1c" stroke-width="1.1" />
<path d="M342.25,819.25 L342.25,839.5" fill="none" stroke="#1c1c1c" stroke-width="1.1" />
<path d="M364.3,809.5 L364.3,828.25" fill="none" stroke="#1c1c1c" stroke-width="1.1" />
<path d="M383.5,799 L383.5,820" fill="none" stroke="#1c1c1c" stroke-width="1.1" />
<path d="M407.2,787 L407.2,811" fill="none" stroke="#1c1c1c" stroke-width="1.1" />
<path d="M606,810.75 L606,831" fill="none" stroke="#1c1c1c" stroke-width="1.1" />
<path d="M626.25,819 L626.25,839.25" fill="none" stroke="#1c1c1c" stroke-width="1.1" />
<path d="M634,911.75 L634,936.5" fill="none" stroke="#1c1c1c" stroke-width="1.1" />
<path d="M660,920 L660,945.5" fill="none" stroke="#1c1c1c" stroke-width="1.1" />
</svg>
</body></html>
